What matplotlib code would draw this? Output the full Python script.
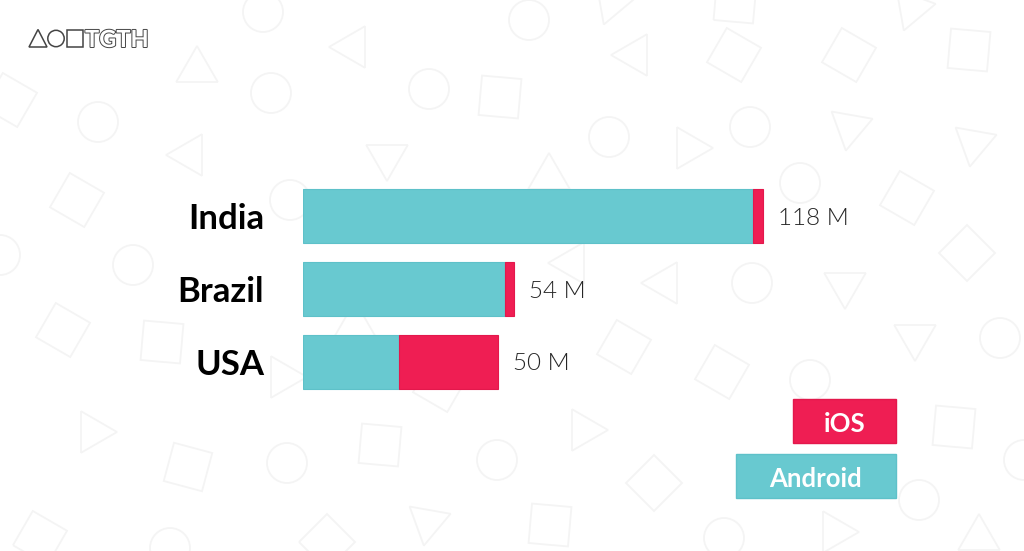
import matplotlib
matplotlib.use("Agg")
import matplotlib.pyplot as plt
from matplotlib.patches import Rectangle, Circle, RegularPolygon, Polygon
import matplotlib.patheffects as pe
import numpy as np

# ---- data ----
countries = ["India", "Brazil", "USA"]
android = [115.5, 51.9, 24.6]
ios = [2.5, 2.1, 25.4]
total_labels = ["118 M", "54 M", "50 M"]
legend_labels = ["iOS", "Android"]

TEAL = "#68C9D0"
TEAL_EDGE = "#5EC1C9"
RED = "#EF1E53"
RED_EDGE = "#E3184C"
SHAPE = "#F4F4F4"

# decorative background shapes: (kind, x_px, y_px, rotation_deg)
DECOR = [
    ("c", 263, 12, 0), ("t", 197, 70, 0), ("c", 271, 93, 0), ("t", 353, 47, 30),
    ("c", 429, 89, 0), ("s", 500, 97, 5), ("s", 10, 100, 30), ("c", 98, 122, 0),
    ("t", 190, 155, 30), ("t", 387, 157, 180), ("s", 77, 200, 30), ("c", 290, 200, 0),
    ("c", 0, 255, 0), ("c", 133, 265, 0), ("c", 529, 20, 0), ("t", 612, 2, 200),
    ("s", 735, 2, 5), ("t", 912, 8, 200), ("t", 635, 55, 30), ("s", 734, 55, 30),
    ("s", 849, 55, 30), ("s", 969, 50, 5), ("c", 609, 137, 0), ("t", 689, 148, -30),
    ("c", 750, 127, 0), ("t", 850, 127, 190), ("t", 974, 143, 190), ("c", 800, 183, 0),
    ("s", 907, 198, 30), ("t", 549, 177, 0), ("s", 967, 253, 45), ("t", 572, 263, 30),
    ("s", 63, 330, 30), ("s", 162, 342, 5), ("t", 93, 432, -30), ("t", 283, 377, -30),
    ("s", 440, 385, 30), ("s", 188, 467, 15), ("c", 287, 463, 0), ("s", 380, 445, 5),
    ("c", 497, 460, 0), ("t", 428, 522, 190), ("s", 327, 542, 45), ("s", 40, 538, 30),
    ("c", 170, 548, 0), ("t", 355, 325, 0), ("t", 665, 283, 30), ("c", 752, 283, 0),
    ("t", 845, 285, 180), ("s", 624, 347, 30), ("t", 915, 337, 180),
    ("c", 1000, 338, 0), ("s", 722, 372, 30), ("c", 810, 380, 0), ("t", 584, 430, -30),
    ("s", 954, 427, 5), ("s", 654, 483, 45), ("c", 919, 500, 0), ("s", 550, 525, 5),
    ("c", 724, 538, 0), ("t", 835, 532, -30), ("t", 979, 538, 0), ("c", 1024, 460, 0),
]

fig = plt.figure(figsize=(10.24, 5.51), dpi=100)
fig.patch.set_facecolor("white")

# background layer in pixel coordinates
bg = fig.add_axes([0, 0, 1, 1])
bg.set_xlim(0, 1024)
bg.set_ylim(551, 0)
bg.axis("off")
bg.set_zorder(0)

for kind, x, y, rot in DECOR:
    if kind == "c":
        p = Circle((x, y), 20, fill=False, ec=SHAPE, lw=1.3)
    elif kind == "s":
        p = RegularPolygon((x, y), 4, radius=28, orientation=np.deg2rad(45 + rot),
                           fill=False, ec=SHAPE, lw=1.3)
    else:
        p = RegularPolygon((x, y), 3, radius=24, orientation=np.deg2rad(180 + rot),
                           fill=False, ec=SHAPE, lw=1.3)
    bg.add_patch(p)

# logo
LOGO = "#444444"
bg.add_patch(Polygon([[29, 47], [47, 47], [38, 29.5]], closed=True, fill=False, ec=LOGO, lw=1.1))
bg.add_patch(Circle((56, 38.5), 8.2, fill=False, ec=LOGO, lw=1.1))
bg.add_patch(Rectangle((67, 30), 15.5, 16.5, fill=False, ec=LOGO, lw=1.1))
bg.text(85, 47, "TGTH", fontsize=17, family="Lato", fontweight="bold", color="white",
        va="baseline", ha="left",
        path_effects=[pe.Stroke(linewidth=1.4, foreground=LOGO), pe.Normal()])

# legend boxes
bg.add_patch(Rectangle((793, 399), 103, 44, fc=RED, ec=RED_EDGE, lw=1))
bg.add_patch(Rectangle((736, 454), 160, 44, fc=TEAL, ec=TEAL_EDGE, lw=1))
bg.text(844.5, 422, legend_labels[0], fontsize=18.5, family="Lato", fontweight="bold",
        color="white", ha="center", va="center_baseline")
bg.text(816, 477, legend_labels[1], fontsize=18.5, family="Lato", fontweight="bold",
        color="white", ha="center", va="center_baseline")

# main bar axes
ax = fig.add_axes([303 / 1024, 1 - 398 / 551, 585 / 1024, 218 / 551])
ax.set_zorder(1)
ax.patch.set_alpha(0)
y = np.arange(len(countries))
ax.barh(y, android, height=0.743, color=TEAL, edgecolor=TEAL_EDGE, linewidth=0.8)
ax.barh(y, ios, left=android, height=0.743, color=RED, edgecolor=RED_EDGE, linewidth=0.8)
ax.set_xlim(0, 150)
ax.set_ylim(2.5, -0.5)
ax.set_xticks([])
ax.set_yticks(y, countries)
ax.tick_params(axis="y", length=0, pad=28)
for lab in ax.get_yticklabels():
    lab.set_fontfamily("Lato")
    lab.set_fontweight("bold")
    lab.set_fontsize(25)
    lab.set_color("black")
for s in ax.spines.values():
    s.set_visible(False)

for yi, a, b, lab in zip(y, android, ios, total_labels):
    ax.annotate(lab, xy=(a + b, yi), xytext=(11, 0), textcoords="offset points",
                va="center_baseline", ha="left", fontsize=17.5, family="Lato",
                fontweight=300, color="#262626")

fig.savefig("out.png", dpi=100, facecolor="white")
